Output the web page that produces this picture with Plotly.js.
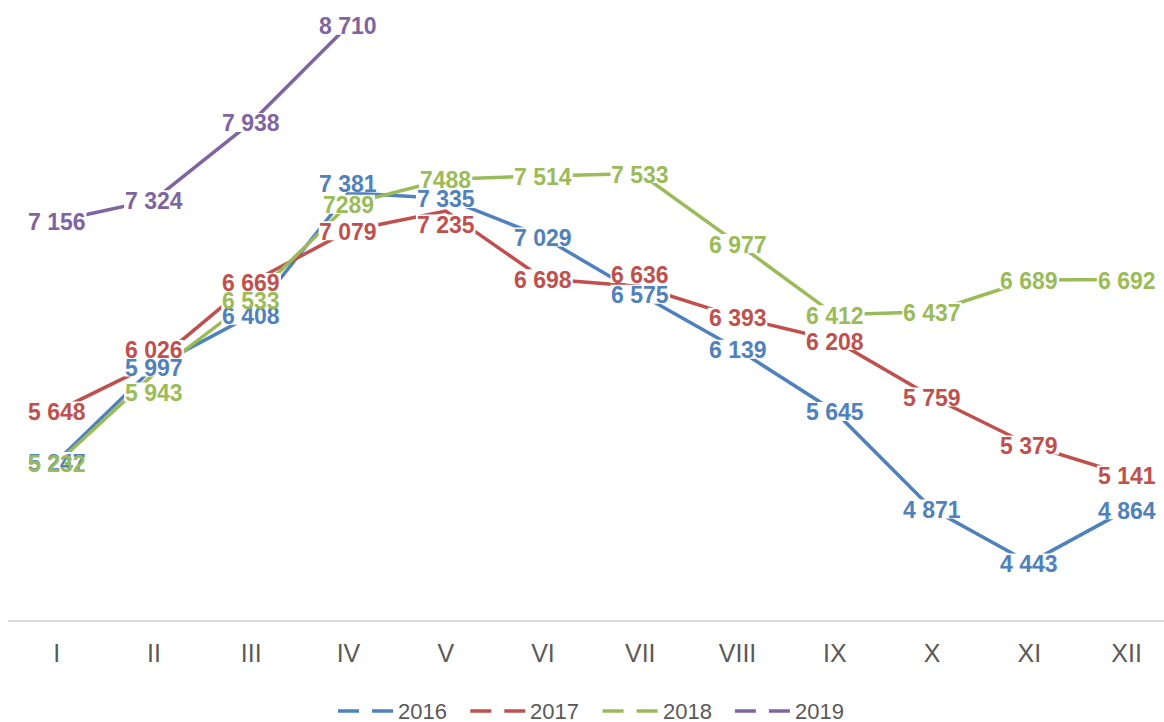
<!DOCTYPE html>
<html>
<head>
<meta charset="utf-8">
<script src="https://cdn.plot.ly/plotly-3.0.1.min.js"></script>
<style>html,body{margin:0;padding:0;background:#fff;}#chart{width:1164px;height:722px;}</style>
</head>
<body>
<div id="chart"></div>
<script>
// ---- data ----
const categories = ['I','II','III','IV','V','VI','VII','VIII','IX','X','XI','XII'];
const years = ['2016','2017','2018','2019'];
const v2016 = [5247, 5997, 6408, 7381, 7335, 7029, 6575, 6139, 5645, 4871, 4443, 4864];
const v2017 = [5648, 6026, 6669, 7079, 7235, 6698, 6636, 6393, 6208, 5759, 5379, 5141];
const v2018 = [5232, 5943, 6533, 7289, 7488, 7514, 7533, 6977, 6412, 6437, 6689, 6692];
const v2019 = [7156, 7324, 7938, 8710];

// ---- style ----
const seriesValues = [v2016, v2017, v2018, v2019];
const colors = ['#4f81bd', '#c0504d', '#9bbb59', '#8064a2'];
// labels written without thousands space in the original (series index -> point indices)
const plainLabels = {2: [3, 4]};
// manual label offsets in px (positive = up)
const labelShift = {'0-3': 10, '1-1': 14, '1-4': -13, '1-6': 13, '2-1': -18};
const LABEL_SIZE = 23;
const DIGIT_W = 0.556 * LABEL_SIZE, SPACE_W = 0.278 * LABEL_SIZE;

function fmt(n, plain) {
  const s = String(n);
  return plain ? s : s.replace(/\B(?=(\d{3})+(?!\d))/g, ' ');
}

const traces = [];
const shapes = [];
const annotations = [];

seriesValues.forEach((vals, si) => {
  const xs = vals.map((_, i) => i);
  traces.push({
    type: 'scatter', mode: 'lines', x: xs, y: vals, name: years[si],
    line: {color: colors[si], width: 3.5}, showlegend: false, hoverinfo: 'skip'
  });
  vals.forEach((v, i) => {
    const plain = (plainLabels[si] || []).includes(i);
    const txt = fmt(v, plain);
    const shift = labelShift[si + '-' + i] || 0;
    const digits = txt.replace(/\s/g, '').length;
    const spaces = txt.length - digits;
    const w = digits * DIGIT_W + spaces * SPACE_W + 2;
    shapes.push({
      type: 'rect', layer: 'above', xref: 'x', yref: 'y',
      xsizemode: 'pixel', ysizemode: 'pixel', xanchor: i, yanchor: v,
      x0: -w / 2, x1: w / 2, y0: shift - 9.5, y1: shift + 9.5,
      fillcolor: '#ffffff', line: {width: 0}
    });
    annotations.push({
      x: i, y: v, xref: 'x', yref: 'y', text: txt, showarrow: false,
      xanchor: 'center', yanchor: 'middle', yshift: shift - 1,
      font: {family: 'Liberation Sans, Arial, sans-serif', size: LABEL_SIZE, color: colors[si], weight: 'bold'}
    });
  });
});

// ---- manual legend (dashed samples as in the original) ----
const PLOT_L = 8, PLOT_W = 1156, PLOT_H = 620;
const legendY = (PLOT_H - 711) / PLOT_H;
years.forEach((yr, si) => {
  const sx = 338 + 132.3 * si;
  shapes.push({
    type: 'line', xref: 'paper', yref: 'paper',
    x0: (sx - PLOT_L) / PLOT_W, x1: (sx + 55 - PLOT_L) / PLOT_W, y0: legendY, y1: legendY,
    line: {color: colors[si], width: 3.5, dash: '21px,13px'}
  });
  annotations.push({
    xref: 'paper', yref: 'paper', x: (sx + 58 - PLOT_L) / PLOT_W, y: legendY,
    xanchor: 'left', yanchor: 'middle', showarrow: false, text: yr, height: 20,
    font: {family: 'Liberation Sans, Arial, sans-serif', size: 22, color: '#595959'}
  });
});

const layout = {
  width: 1164, height: 722,
  margin: {l: PLOT_L, r: 0, t: 0, b: 102},
  paper_bgcolor: '#ffffff', plot_bgcolor: '#ffffff',
  showlegend: false,
  xaxis: {
    type: 'linear', range: [-0.5, 11.384],
    tickvals: categories.map((_, i) => i), ticktext: categories,
    showgrid: false, zeroline: false, showline: true, linecolor: '#d9d9d9', linewidth: 2,
    ticks: '', ticklabelstandoff: 10,
    tickfont: {family: 'Liberation Sans, Arial, sans-serif', size: 25, color: '#595959'}
  },
  yaxis: {
    range: [3990, 8910], showgrid: false, zeroline: false, showline: false,
    showticklabels: false, ticks: ''
  },
  shapes: shapes,
  annotations: annotations
};

Plotly.newPlot('chart', traces, layout, {displayModeBar: false, staticPlot: true});
</script>
</body>
</html>
